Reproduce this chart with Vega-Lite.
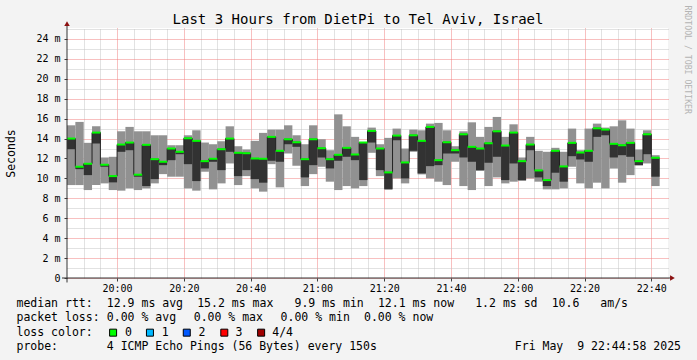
{
  "$schema": "https://vega.github.io/schema/vega-lite/v6.json",
  "width": 601,
  "height": 250,
  "autosize": {"type": "none"},
  "padding": {"left": 67, "top": 28, "right": 29, "bottom": 82},
  "background": "#f3f3f3",
  "config": {"view": {"stroke": null, "fill": "#ffffff"}, "font": "DejaVu Sans Mono"},
  "datasets": {
    "smoke": [
      {"t":"2025-05-09T19:45:00","t2":"2025-05-09T19:47:30","hi":15.33,"med":14.0,"p2":12.93,"lo":9.33},
      {"t":"2025-05-09T19:47:30","t2":"2025-05-09T19:50:00","hi":15.67,"med":11.17,"p2":10.93,"lo":9.33},
      {"t":"2025-05-09T19:50:00","t2":"2025-05-09T19:52:30","hi":13.57,"med":11.47,"p2":10.33,"lo":8.83},
      {"t":"2025-05-09T19:52:30","t2":"2025-05-09T19:55:00","hi":15.23,"med":14.6,"p2":13.5,"lo":9.33},
      {"t":"2025-05-09T19:55:00","t2":"2025-05-09T19:57:30","hi":12.1,"med":11.37,"p2":11.17,"lo":9.5},
      {"t":"2025-05-09T19:57:30","t2":"2025-05-09T20:00:00","hi":12.17,"med":10.23,"p2":9.6,"lo":8.83},
      {"t":"2025-05-09T20:00:00","t2":"2025-05-09T20:02:30","hi":14.73,"med":13.4,"p2":12.67,"lo":8.77},
      {"t":"2025-05-09T20:02:30","t2":"2025-05-09T20:05:00","hi":15.17,"med":13.6,"p2":12.83,"lo":9.0},
      {"t":"2025-05-09T20:05:00","t2":"2025-05-09T20:07:30","hi":14.73,"med":10.37,"p2":10.17,"lo":8.83},
      {"t":"2025-05-09T20:07:30","t2":"2025-05-09T20:10:00","hi":14.73,"med":13.37,"p2":9.23,"lo":9.0},
      {"t":"2025-05-09T20:10:00","t2":"2025-05-09T20:12:30","hi":14.33,"med":11.93,"p2":9.93,"lo":9.5},
      {"t":"2025-05-09T20:12:30","t2":"2025-05-09T20:15:00","hi":14.33,"med":11.67,"p2":11.33,"lo":10.43},
      {"t":"2025-05-09T20:15:00","t2":"2025-05-09T20:17:30","hi":13.33,"med":13.0,"p2":11.83,"lo":10.17},
      {"t":"2025-05-09T20:17:30","t2":"2025-05-09T20:20:00","hi":13.33,"med":12.67,"p2":12.43,"lo":10.17},
      {"t":"2025-05-09T20:20:00","t2":"2025-05-09T20:22:30","hi":14.33,"med":14.03,"p2":11.43,"lo":9.0},
      {"t":"2025-05-09T20:22:30","t2":"2025-05-09T20:25:00","hi":14.83,"med":13.77,"p2":9.73,"lo":8.77},
      {"t":"2025-05-09T20:25:00","t2":"2025-05-09T20:27:30","hi":13.6,"med":11.73,"p2":11.0,"lo":10.67},
      {"t":"2025-05-09T20:27:30","t2":"2025-05-09T20:30:00","hi":13.43,"med":11.97,"p2":11.67,"lo":8.9},
      {"t":"2025-05-09T20:30:00","t2":"2025-05-09T20:32:30","hi":13.73,"med":12.93,"p2":10.83,"lo":9.5},
      {"t":"2025-05-09T20:32:30","t2":"2025-05-09T20:35:00","hi":15.23,"med":14.0,"p2":12.67,"lo":11.5},
      {"t":"2025-05-09T20:35:00","t2":"2025-05-09T20:37:30","hi":13.23,"med":12.57,"p2":10.23,"lo":9.33},
      {"t":"2025-05-09T20:37:30","t2":"2025-05-09T20:40:00","hi":12.9,"med":12.53,"p2":10.83,"lo":10.23},
      {"t":"2025-05-09T20:40:00","t2":"2025-05-09T20:42:30","hi":13.77,"med":12.0,"p2":9.93,"lo":9.0},
      {"t":"2025-05-09T20:42:30","t2":"2025-05-09T20:45:00","hi":14.57,"med":11.97,"p2":9.57,"lo":8.67},
      {"t":"2025-05-09T20:45:00","t2":"2025-05-09T20:47:30","hi":14.9,"med":14.17,"p2":11.77,"lo":11.43},
      {"t":"2025-05-09T20:47:30","t2":"2025-05-09T20:50:00","hi":14.9,"med":12.77,"p2":11.67,"lo":9.1},
      {"t":"2025-05-09T20:50:00","t2":"2025-05-09T20:52:30","hi":15.33,"med":13.93,"p2":13.43,"lo":12.5},
      {"t":"2025-05-09T20:52:30","t2":"2025-05-09T20:55:00","hi":14.33,"med":13.63,"p2":13.17,"lo":11.27},
      {"t":"2025-05-09T20:55:00","t2":"2025-05-09T20:57:30","hi":13.43,"med":11.93,"p2":10.1,"lo":9.23},
      {"t":"2025-05-09T20:57:30","t2":"2025-05-09T21:00:00","hi":15.33,"med":13.93,"p2":11.33,"lo":10.43},
      {"t":"2025-05-09T21:00:00","t2":"2025-05-09T21:02:30","hi":13.93,"med":13.03,"p2":12.1,"lo":11.17},
      {"t":"2025-05-09T21:02:30","t2":"2025-05-09T21:05:00","hi":12.83,"med":11.93,"p2":11.0,"lo":9.67},
      {"t":"2025-05-09T21:05:00","t2":"2025-05-09T21:07:30","hi":16.43,"med":12.37,"p2":11.77,"lo":8.83},
      {"t":"2025-05-09T21:07:30","t2":"2025-05-09T21:10:00","hi":15.23,"med":13.07,"p2":12.17,"lo":9.23},
      {"t":"2025-05-09T21:10:00","t2":"2025-05-09T21:12:30","hi":14.17,"med":12.4,"p2":11.83,"lo":9.0},
      {"t":"2025-05-09T21:12:30","t2":"2025-05-09T21:15:00","hi":13.67,"med":13.6,"p2":9.83,"lo":9.23},
      {"t":"2025-05-09T21:15:00","t2":"2025-05-09T21:17:30","hi":15.1,"med":14.77,"p2":13.6,"lo":12.57},
      {"t":"2025-05-09T21:17:30","t2":"2025-05-09T21:20:00","hi":13.43,"med":13.0,"p2":10.83,"lo":10.23},
      {"t":"2025-05-09T21:20:00","t2":"2025-05-09T21:22:30","hi":14.07,"med":10.6,"p2":8.93,"lo":8.85},
      {"t":"2025-05-09T21:22:30","t2":"2025-05-09T21:25:00","hi":15.0,"med":14.3,"p2":13.83,"lo":10.0},
      {"t":"2025-05-09T21:25:00","t2":"2025-05-09T21:27:30","hi":13.0,"med":11.6,"p2":10.0,"lo":9.5},
      {"t":"2025-05-09T21:27:30","t2":"2025-05-09T21:30:00","hi":14.9,"med":14.33,"p2":12.77,"lo":12.67},
      {"t":"2025-05-09T21:30:00","t2":"2025-05-09T21:32:30","hi":14.83,"med":13.77,"p2":10.5,"lo":10.4},
      {"t":"2025-05-09T21:32:30","t2":"2025-05-09T21:35:00","hi":15.5,"med":15.17,"p2":11.23,"lo":10.0},
      {"t":"2025-05-09T21:35:00","t2":"2025-05-09T21:37:30","hi":15.57,"med":11.83,"p2":11.33,"lo":9.67},
      {"t":"2025-05-09T21:37:30","t2":"2025-05-09T21:40:00","hi":14.83,"med":13.63,"p2":12.5,"lo":9.33},
      {"t":"2025-05-09T21:40:00","t2":"2025-05-09T21:42:30","hi":13.23,"med":12.83,"p2":12.5,"lo":11.67},
      {"t":"2025-05-09T21:42:30","t2":"2025-05-09T21:45:00","hi":14.73,"med":14.43,"p2":12.1,"lo":9.23},
      {"t":"2025-05-09T21:45:00","t2":"2025-05-09T21:47:30","hi":15.63,"med":13.17,"p2":11.67,"lo":8.83},
      {"t":"2025-05-09T21:47:30","t2":"2025-05-09T21:50:00","hi":14.17,"med":13.0,"p2":10.83,"lo":10.75},
      {"t":"2025-05-09T21:50:00","t2":"2025-05-09T21:52:30","hi":15.17,"med":13.53,"p2":11.57,"lo":9.23},
      {"t":"2025-05-09T21:52:30","t2":"2025-05-09T21:55:00","hi":16.17,"med":14.73,"p2":12.17,"lo":10.1},
      {"t":"2025-05-09T21:55:00","t2":"2025-05-09T21:57:30","hi":14.17,"med":13.3,"p2":9.83,"lo":9.5},
      {"t":"2025-05-09T21:57:30","t2":"2025-05-09T22:00:00","hi":15.43,"med":14.6,"p2":11.5,"lo":9.67},
      {"t":"2025-05-09T22:00:00","t2":"2025-05-09T22:02:30","hi":12.1,"med":11.73,"p2":9.83,"lo":9.75},
      {"t":"2025-05-09T22:02:30","t2":"2025-05-09T22:05:00","hi":14.17,"med":13.4,"p2":12.83,"lo":10.0},
      {"t":"2025-05-09T22:05:00","t2":"2025-05-09T22:07:30","hi":12.77,"med":10.8,"p2":10.1,"lo":9.67},
      {"t":"2025-05-09T22:07:30","t2":"2025-05-09T22:10:00","hi":12.67,"med":9.83,"p2":9.23,"lo":8.9},
      {"t":"2025-05-09T22:10:00","t2":"2025-05-09T22:12:30","hi":13.07,"med":12.77,"p2":10.57,"lo":8.9},
      {"t":"2025-05-09T22:12:30","t2":"2025-05-09T22:15:00","hi":12.67,"med":11.2,"p2":9.67,"lo":9.0},
      {"t":"2025-05-09T22:15:00","t2":"2025-05-09T22:17:30","hi":15.0,"med":13.57,"p2":12.23,"lo":11.17},
      {"t":"2025-05-09T22:17:30","t2":"2025-05-09T22:20:00","hi":12.83,"med":12.6,"p2":11.9,"lo":9.5},
      {"t":"2025-05-09T22:20:00","t2":"2025-05-09T22:22:30","hi":15.0,"med":12.77,"p2":11.67,"lo":9.0},
      {"t":"2025-05-09T22:22:30","t2":"2025-05-09T22:25:00","hi":15.5,"med":15.03,"p2":14.17,"lo":9.57},
      {"t":"2025-05-09T22:25:00","t2":"2025-05-09T22:27:30","hi":15.1,"med":14.9,"p2":14.33,"lo":9.0},
      {"t":"2025-05-09T22:27:30","t2":"2025-05-09T22:30:00","hi":15.23,"med":13.47,"p2":12.1,"lo":11.0},
      {"t":"2025-05-09T22:30:00","t2":"2025-05-09T22:32:30","hi":15.83,"med":13.33,"p2":12.33,"lo":9.57},
      {"t":"2025-05-09T22:32:30","t2":"2025-05-09T22:35:00","hi":15.0,"med":13.57,"p2":12.17,"lo":10.33},
      {"t":"2025-05-09T22:35:00","t2":"2025-05-09T22:37:30","hi":12.9,"med":11.73,"p2":11.33,"lo":11.3},
      {"t":"2025-05-09T22:37:30","t2":"2025-05-09T22:40:00","hi":14.83,"med":14.43,"p2":12.43,"lo":11.5},
      {"t":"2025-05-09T22:40:00","t2":"2025-05-09T22:42:30","hi":12.33,"med":12.07,"p2":10.17,"lo":9.23}
    ]
  },
  "layer": [
    {
      "data": {"name": "smoke"},
      "resolve": {"axis": {"x": "independent", "y": "independent"}},
      "layer": [
        {
          "mark": {"type": "rect", "color": "#919191"},
          "encoding": {
            "x": {"field": "t", "type": "temporal",
              "scale": {"domain": [{"year":2025,"month":5,"date":9,"hours":19,"minutes":45},{"year":2025,"month":5,"date":9,"hours":22,"minutes":45}]},
              "axis": {"orient": "top", "labels": false, "ticks": false, "domain": false,
                "grid": true, "gridColor": "#c4c4c4", "gridDash": [1, 1], "gridOpacity": 1,
                "values": [
                  {"year":2025,"month":5,"date":9,"hours":19,"minutes":50},{"year":2025,"month":5,"date":9,"hours":19,"minutes":55},
                  {"year":2025,"month":5,"date":9,"hours":20,"minutes":5},{"year":2025,"month":5,"date":9,"hours":20,"minutes":10},{"year":2025,"month":5,"date":9,"hours":20,"minutes":15},
                  {"year":2025,"month":5,"date":9,"hours":20,"minutes":25},{"year":2025,"month":5,"date":9,"hours":20,"minutes":30},{"year":2025,"month":5,"date":9,"hours":20,"minutes":35},
                  {"year":2025,"month":5,"date":9,"hours":20,"minutes":45},{"year":2025,"month":5,"date":9,"hours":20,"minutes":50},{"year":2025,"month":5,"date":9,"hours":20,"minutes":55},
                  {"year":2025,"month":5,"date":9,"hours":21,"minutes":5},{"year":2025,"month":5,"date":9,"hours":21,"minutes":10},{"year":2025,"month":5,"date":9,"hours":21,"minutes":15},
                  {"year":2025,"month":5,"date":9,"hours":21,"minutes":25},{"year":2025,"month":5,"date":9,"hours":21,"minutes":30},{"year":2025,"month":5,"date":9,"hours":21,"minutes":35},
                  {"year":2025,"month":5,"date":9,"hours":21,"minutes":45},{"year":2025,"month":5,"date":9,"hours":21,"minutes":50},{"year":2025,"month":5,"date":9,"hours":21,"minutes":55},
                  {"year":2025,"month":5,"date":9,"hours":22,"minutes":5},{"year":2025,"month":5,"date":9,"hours":22,"minutes":10},{"year":2025,"month":5,"date":9,"hours":22,"minutes":15},
                  {"year":2025,"month":5,"date":9,"hours":22,"minutes":25},{"year":2025,"month":5,"date":9,"hours":22,"minutes":30},{"year":2025,"month":5,"date":9,"hours":22,"minutes":35}
                ],
                "title": "Last 3 Hours from DietPi to Tel Aviv, Israel",
                "titleFont": "DejaVu Sans Mono", "titleFontSize": 14, "titleFontWeight": "normal", "titleColor": "#000000",
                "titleX": 290.5, "titleY": -4.7, "titleAlign": "center", "titleBaseline": "alphabetic", "titleAngle": 0}},
            "x2": {"field": "t2"},
            "y": {"field": "lo", "type": "quantitative",
              "scale": {"domain": [0, 25.1], "nice": false, "zero": false},
              "axis": {"orient": "right", "labels": false, "ticks": false, "domain": false,
                "grid": true, "gridColor": "#c4c4c4", "gridDash": [1, 1], "gridOpacity": 1,
                "values": [1, 3, 5, 7, 9, 11, 13, 15, 17, 19, 21, 23, 25],
                "title": "RRDTOOL / TOBI OETIKER",
                "titleFont": "DejaVu Sans Mono", "titleFontSize": 8.2, "titleFontWeight": "normal", "titleColor": "#b4b4b4",
                "titleX": 18, "titleY": -23, "titleAngle": 90, "titleAlign": "left", "titleBaseline": "middle"}},
            "y2": {"field": "hi"}
          }
        },
        {
          "mark": {"type": "rect", "color": "#323232"},
          "encoding": {
            "x": {"field": "t", "type": "temporal",
              "scale": {"domain": [{"year":2025,"month":5,"date":9,"hours":19,"minutes":45},{"year":2025,"month":5,"date":9,"hours":22,"minutes":45}]},
              "axis": {"orient": "bottom", "format": "%H:%M", "domain": false,
                "values": [
                  {"year":2025,"month":5,"date":9,"hours":20,"minutes":0},{"year":2025,"month":5,"date":9,"hours":20,"minutes":20},{"year":2025,"month":5,"date":9,"hours":20,"minutes":40},
                  {"year":2025,"month":5,"date":9,"hours":21,"minutes":0},{"year":2025,"month":5,"date":9,"hours":21,"minutes":20},{"year":2025,"month":5,"date":9,"hours":21,"minutes":40},
                  {"year":2025,"month":5,"date":9,"hours":22,"minutes":0},{"year":2025,"month":5,"date":9,"hours":22,"minutes":20},{"year":2025,"month":5,"date":9,"hours":22,"minutes":40}
                ],
                "grid": true, "gridColor": "#f08080", "gridDash": [1, 1], "gridOpacity": 1,
                "ticks": true, "tickSize": 3, "tickColor": "#404040",
                "labelFont": "DejaVu Sans Mono", "labelFontSize": 10, "labelColor": "#000000", "labelPadding": 2,
                "labelFlush": false, "labelOverlap": false, "title": null}},
            "x2": {"field": "t2"},
            "y": {"field": "p2", "type": "quantitative",
              "scale": {"domain": [0, 25.1], "nice": false, "zero": false},
              "axis": {"orient": "left", "domain": false,
                "values": [0, 2, 4, 6, 8, 10, 12, 14, 16, 18, 20, 22, 24],
                "labelExpr": "datum.value == 0 ? '0' : datum.value + ' m'",
                "grid": true, "gridColor": "#f08080", "gridDash": [1, 1], "gridOpacity": 1,
                "ticks": true, "tickSize": 3, "tickColor": "#404040",
                "labelFont": "DejaVu Sans Mono", "labelFontSize": 10, "labelColor": "#000000", "labelPadding": 4,
                "labelFlush": false, "labelOverlap": false,
                "title": "Seconds", "titleFont": "DejaVu Sans Mono", "titleFontSize": 11.5, "titleFontWeight": "normal", "titleColor": "#000000",
                "titleX": -56, "titleY": 125, "titleAngle": 270, "titleAlign": "center", "titleBaseline": "middle"}},
            "y2": {"field": "med"}
          }
        },
        {
          "mark": {"type": "line", "color": "#202020", "strokeWidth": 1, "interpolate": "step-after"},
          "encoding": {
            "x": {"field": "t", "type": "temporal", "axis": null,
              "scale": {"domain": [{"year":2025,"month":5,"date":9,"hours":19,"minutes":45},{"year":2025,"month":5,"date":9,"hours":22,"minutes":45}]}},
            "y": {"field": "med", "type": "quantitative", "axis": null,
              "scale": {"domain": [0, 25.1], "nice": false, "zero": false}}
          }
        },
        {
          "mark": {"type": "rule", "color": "#00ff00", "strokeWidth": 2, "strokeCap": "butt"},
          "encoding": {
            "x": {"field": "t", "type": "temporal", "axis": null,
              "scale": {"domain": [{"year":2025,"month":5,"date":9,"hours":19,"minutes":45},{"year":2025,"month":5,"date":9,"hours":22,"minutes":45}]}},
            "x2": {"field": "t2"},
            "y": {"field": "med", "type": "quantitative", "axis": null,
              "scale": {"domain": [0, 25.1], "nice": false, "zero": false}}
          }
        },
        {
          "data": {"values": [{}]},
          "mark": {"type": "rule", "color": "#333333", "strokeWidth": 1},
          "encoding": {
            "x": {"datum": {"year":2025,"month":5,"date":9,"hours":19,"minutes":45}, "type": "temporal", "axis": null,
              "scale": {"domain": [{"year":2025,"month":5,"date":9,"hours":19,"minutes":45},{"year":2025,"month":5,"date":9,"hours":22,"minutes":45}]}},
            "y": {"datum": -0.45, "type": "quantitative", "axis": null,
              "scale": {"domain": [0, 25.1], "nice": false, "zero": false}},
            "y2": {"datum": 25.4}
          }
        },
        {
          "data": {"values": [{}]},
          "mark": {"type": "rule", "color": "#333333", "strokeWidth": 1},
          "encoding": {
            "x": {"datum": {"year":2025,"month":5,"date":9,"hours":19,"minutes":43,"seconds":30}, "type": "temporal", "axis": null,
              "scale": {"domain": [{"year":2025,"month":5,"date":9,"hours":19,"minutes":45},{"year":2025,"month":5,"date":9,"hours":22,"minutes":45}]}},
            "x2": {"datum": {"year":2025,"month":5,"date":9,"hours":22,"minutes":46}},
            "y": {"datum": 0, "type": "quantitative", "axis": null,
              "scale": {"domain": [0, 25.1], "nice": false, "zero": false}}
          }
        },
        {
          "data": {"values": [{}]},
          "mark": {"type": "point", "shape": "triangle-up", "filled": true, "size": 30, "color": "#8b1010", "opacity": 1},
          "encoding": {
            "x": {"datum": {"year":2025,"month":5,"date":9,"hours":19,"minutes":45}, "type": "temporal", "axis": null,
              "scale": {"domain": [{"year":2025,"month":5,"date":9,"hours":19,"minutes":45},{"year":2025,"month":5,"date":9,"hours":22,"minutes":45}]}},
            "y": {"datum": 25.55, "type": "quantitative", "axis": null,
              "scale": {"domain": [0, 25.1], "nice": false, "zero": false}}
          }
        },
        {
          "data": {"values": [{}]},
          "mark": {"type": "point", "shape": "triangle-right", "filled": true, "size": 30, "color": "#8b1010", "opacity": 1},
          "encoding": {
            "x": {"datum": {"year":2025,"month":5,"date":9,"hours":22,"minutes":46,"seconds":20}, "type": "temporal", "axis": null,
              "scale": {"domain": [{"year":2025,"month":5,"date":9,"hours":19,"minutes":45},{"year":2025,"month":5,"date":9,"hours":22,"minutes":45}]}},
            "y": {"datum": 0, "type": "quantitative", "axis": null,
              "scale": {"domain": [0, 25.1], "nice": false, "zero": false}}
          }
        }
      ]
    },
    {
      "layer": [
        {
          "data": {"values": [
            {"line": 1, "col": 0, "label": "median rtt:"},
            {"line": 1, "col": 13, "label": "12.9 ms avg"},
            {"line": 1, "col": 26, "label": "15.2 ms max"},
            {"line": 1, "col": 40, "label": "9.9 ms min"},
            {"line": 1, "col": 52, "label": "12.1 ms now"},
            {"line": 1, "col": 66, "label": "1.2 ms sd"},
            {"line": 1, "col": 77, "label": "10.6"},
            {"line": 1, "col": 84, "label": "am/s"},
            {"line": 2, "col": 0, "label": "packet loss:"},
            {"line": 2, "col": 13, "label": "0.00 % avg"},
            {"line": 2, "col": 25.5, "label": "0.00 % max"},
            {"line": 2, "col": 38, "label": "0.00 % min"},
            {"line": 2, "col": 50, "label": "0.00 % now"},
            {"line": 3, "col": 0, "label": "loss color:"},
            {"line": 3, "col": 15.6, "label": "0"},
            {"line": 3, "col": 20.9, "label": "1"},
            {"line": 3, "col": 26.2, "label": "2"},
            {"line": 3, "col": 31.5, "label": "3"},
            {"line": 3, "col": 36.8, "label": "4/4"},
            {"line": 4, "col": 0, "label": "probe:"},
            {"line": 4, "col": 13, "label": "4 ICMP Echo Pings (56 Bytes) every 150s"},
            {"line": 4, "col": 71.7, "label": "Fri May\u00a0\u00a09 22:44:58 2025"}
          ]},
          "mark": {"type": "text", "align": "left", "baseline": "middle", "font": "DejaVu Sans Mono", "fontSize": 11.5, "color": "#000000"},
          "encoding": {
            "x": {"field": "col", "type": "quantitative", "axis": null, "scale": {"domain": [0, 100], "range": [-50.5, 644.5], "nice": false, "zero": false}},
            "y": {"field": "line", "type": "quantitative", "axis": null, "scale": {"domain": [1, 4], "range": [276, 319], "nice": false, "zero": false}},
            "text": {"field": "label"}
          }
        },
        {
          "data": {"values": [
            {"line": 3, "col": 13.9, "loss": "0"},
            {"line": 3, "col": 19.2, "loss": "1"},
            {"line": 3, "col": 24.5, "loss": "2"},
            {"line": 3, "col": 29.9, "loss": "3"},
            {"line": 3, "col": 35.2, "loss": "4/4"}
          ]},
          "mark": {"type": "point", "shape": "square", "filled": true, "size": 49, "stroke": "#000000", "strokeWidth": 1, "opacity": 1},
          "encoding": {
            "x": {"field": "col", "type": "quantitative", "axis": null, "scale": {"domain": [0, 100], "range": [-50.5, 644.5], "nice": false, "zero": false}},
            "y": {"field": "line", "type": "quantitative", "axis": null, "scale": {"domain": [1, 4], "range": [276, 319], "nice": false, "zero": false}},
            "fill": {"field": "loss", "type": "nominal", "legend": null,
              "scale": {"domain": ["0", "1", "2", "3", "4/4"], "range": ["#00ff00", "#00b8ff", "#0059ff", "#ff0000", "#a00000"]}}
          }
        }
      ]
    }
  ],
  "resolve": {"scale": {"x": "independent", "y": "independent"}}
}
